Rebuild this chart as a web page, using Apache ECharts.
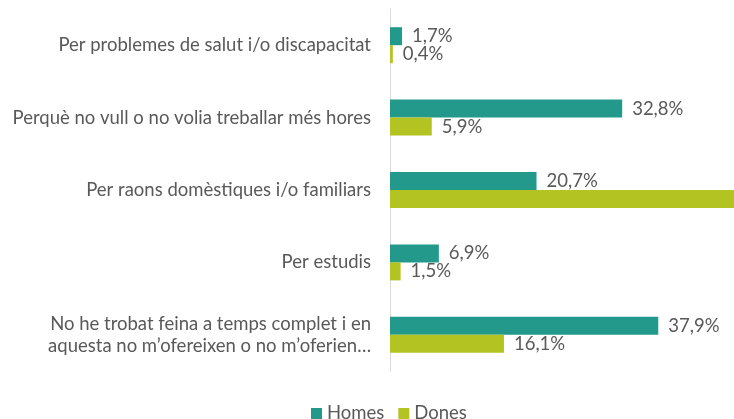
<!DOCTYPE html>
<html>
<head>
<meta charset="utf-8">
<script src="https://cdn.jsdelivr.net/npm/echarts@6/dist/echarts.min.js"></script>
<style>
html,body{margin:0;padding:0;background:#fff;}
#chart{width:734px;height:419px;}
</style>
</head>
<body>
<div id="chart"></div>
<script>
const categories = [
  "Per problemes de salut i/o discapacitat",
  "Perquè no vull o no volia treballar més hores",
  "Per raons domèstiques i/o familiars",
  "Per estudis",
  "No he trobat feina a temps complet i en\naquesta no m’ofereixen o no m’oferien…"
];
const homes = [1.7, 32.8, 20.7, 6.9, 37.9];
const dones = [0.4, 5.9, 76.1, 1.5, 16.1];
const seriesNames = ["Homes", "Dones"];
const xMax = 48.6;

const FS = 18.5;
const fmt = p => p.value > xMax ? '' : p.value.toFixed(1).replace('.', ',') + '%';
const labelStyle = {
  show: true, position: 'right', distance: 10,
  color: '#595959', fontFamily: 'Lato', fontSize: FS, formatter: fmt
};

const chart = echarts.init(document.getElementById('chart'), null, {renderer: 'canvas'});
chart.setOption({
  animation: false,
  grid: {left: 390, right: 0, top: 9, bottom: 48, containLabel: false},
  xAxis: {
    type: 'value', min: 0, max: xMax,
    show: false
  },
  yAxis: {
    type: 'category', data: categories, inverse: true,
    axisLine: {show: true, lineStyle: {color: '#d9d9d9', width: 1}},
    axisTick: {show: false},
    axisLabel: {color: '#595959', fontFamily: 'Lato', fontSize: FS, margin: 19, lineHeight: 22, align: 'right'}
  },
  legend: {
    data: seriesNames, left: 306, top: 399,
    icon: 'rect', itemWidth: 11, itemHeight: 11, itemGap: 14,
    textStyle: {color: '#595959', fontFamily: 'Lato', fontSize: FS}
  },
  series: [
    {name: seriesNames[0], type: 'bar', data: homes, barWidth: 18, barGap: '0%',
     itemStyle: {color: '#22998a'}, label: labelStyle},
    {name: seriesNames[1], type: 'bar', data: dones, barWidth: 18, barGap: '0%',
     itemStyle: {color: '#b3c322'}, label: labelStyle}
  ]
});
</script>
</body>
</html>
